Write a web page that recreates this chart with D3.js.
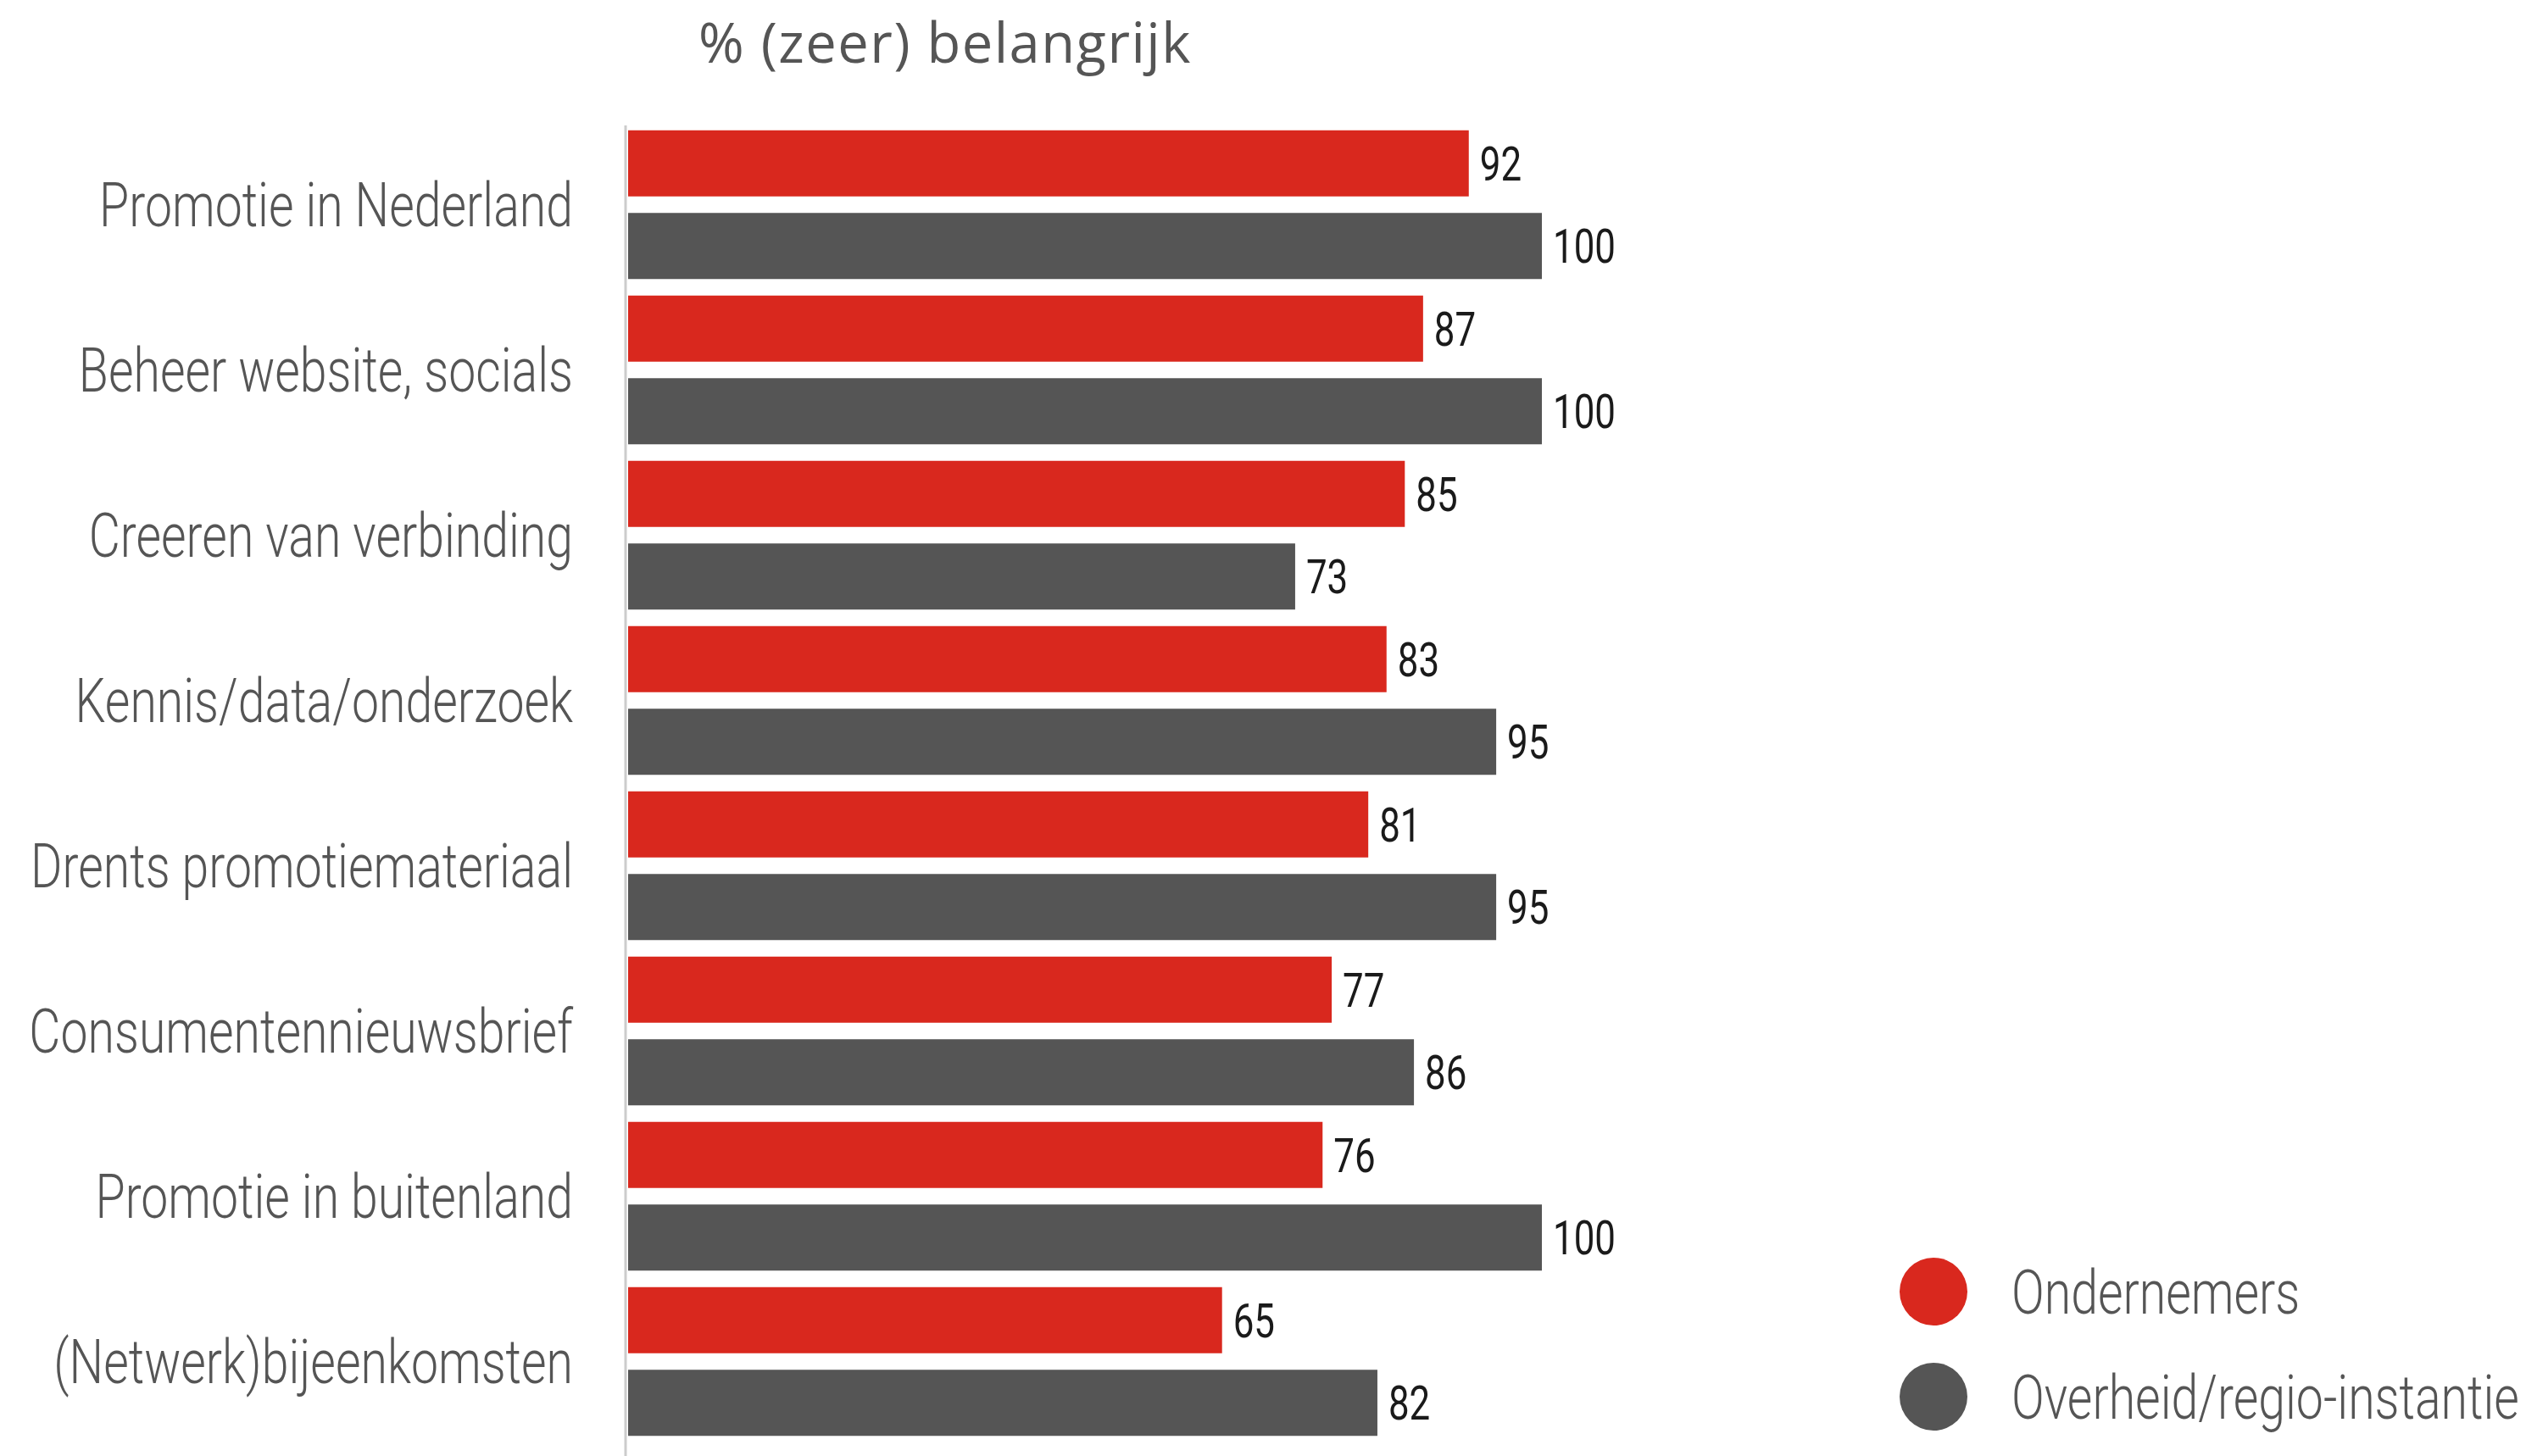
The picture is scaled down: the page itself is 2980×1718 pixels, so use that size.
<!DOCTYPE html>
<html lang="nl">

<head>
  <meta charset="UTF-8">
  <title>% (zeer) belangrijk</title>
  <script src="https://d3js.org/d3.v7.min.js"></script>
  <style>
    body {
      margin: 0;
      background: #fff;
    }

    .narrow {
      font-family: Roboto, "Liberation Sans", sans-serif;
    }

    .light {
      font-weight: 300;
    }
  </style>
</head>

<body>
  <div id="chart"></div>
  <script>

    // data
    const categories = [
      "Promotie in Nederland",
      "Beheer website, socials",
      "Creeren van verbinding",
      "Kennis/data/onderzoek",
      "Drents promotiemateriaal",
      "Consumentennieuwsbrief",
      "Promotie in buitenland",
      "(Netwerk)bijeenkomsten"
    ];
    const series = ["Ondernemers", "Overheid/regio-instantie"];
    const ondernemers = [92, 87, 85, 83, 81, 77, 76, 65];
    const overheid = [100, 100, 73, 95, 95, 86, 100, 82];
    const colors = ["#d9281e", "#555555"];
    const title = "% (zeer) belangrijk";

    const width = 2980, height = 1718;

    const svg = d3.select("#chart")
      .append("svg")
      .attr("width", width)
      .attr("height", height);

    // no condensed font installed: squeeze a regular one horizontally
    // so a sample string gets the width it has in the original
    function squeeze(size, sample, target, cls) {
      const t = svg.append("text")
        .attr("class", cls)
        .style("font-size", size + "px")
        .text(sample);
      const w = t.node().getComputedTextLength();
      t.remove();
      return target / w;
    }
    const kCat = squeeze(72, "Drents promotiemateriaal", 640, "narrow light");
    const kVal = squeeze(55, "100", 74, "narrow");
    const kLeg = squeeze(72, "Overheid/regio-instantie", 599, "narrow light");

    // scales
    const x = d3.scaleLinear()
      .domain([0, 100])
      .range([741, 1819]);

    const y0 = d3.scaleBand()
      .domain(categories)
      .range([144, 1704]);

    const y1 = d3.scaleBand()
      .domain(series)
      .range([0, y0.bandwidth()])
      .paddingInner(0.2)
      .paddingOuter(0.1);

    const color = d3.scaleOrdinal().domain(series).range(colors);

    const rows = categories.map((c, i) => ({
      cat: c,
      vals: [
        { s: series[0], v: ondernemers[i] },
        { s: series[1], v: overheid[i] }
      ]
    }));

    // title
    svg.append("text")
      .attr("x", 1115)
      .attr("y", 74)
      .attr("text-anchor", "middle")
      .style("font-family", "'Open Sans', 'Noto Sans', sans-serif")
      .style("font-size", "65px")
      .style("letter-spacing", "1.5px")
      .attr("fill", "#555")
      .text(title);

    // category labels
    svg.append("g")
      .selectAll("g")
      .data(categories)
      .join("g")
      .attr("transform", d => `translate(676,${y0(d) + y0.bandwidth() / 2}) scale(${kCat},1)`)
      .append("text")
      .attr("class", "narrow light")
      .attr("dy", "0.36em")
      .attr("text-anchor", "end")
      .style("font-size", "72px")
      .attr("fill", "#555")
      .text(d => d);

    // bars
    const group = svg.append("g")
      .selectAll("g")
      .data(rows)
      .join("g")
      .attr("transform", d => `translate(0,${y0(d.cat)})`);

    group.selectAll("rect")
      .data(d => d.vals)
      .join("rect")
      .attr("x", x(0))
      .attr("y", d => y1(d.s))
      .attr("width", d => x(d.v) - x(0))
      .attr("height", y1.bandwidth())
      .attr("fill", d => color(d.s));

    group.selectAll("g.val")
      .data(d => d.vals)
      .join("g")
      .attr("class", "val")
      .attr("transform", d => `translate(${x(d.v) + 13},${y1(d.s) + y1.bandwidth() / 2}) scale(${kVal},1)`)
      .append("text")
      .attr("class", "narrow")
      .attr("dy", "0.36em")
      .style("font-size", "55px")
      .attr("fill", "#1a1a1a")
      .text(d => d.v);

    // vertical axis line
    svg.append("line")
      .attr("x1", x(0) - 3)
      .attr("x2", x(0) - 3)
      .attr("y1", 148)
      .attr("y2", height)
      .attr("stroke", "#cccccc")
      .attr("stroke-width", 3);

    // legend
    const legend = svg.append("g")
      .selectAll("g")
      .data(series)
      .join("g")
      .attr("transform", (d, i) => `translate(2281,${1524 + i * 124})`);

    legend.append("circle")
      .attr("r", 40)
      .attr("fill", d => color(d));

    legend.append("g")
      .attr("transform", `translate(92,0) scale(${kLeg},1)`)
      .append("text")
      .attr("class", "narrow light")
      .attr("dy", "0.36em")
      .style("font-size", "72px")
      .attr("fill", "#555")
      .text(d => d);

  </script>
</body>

</html>
